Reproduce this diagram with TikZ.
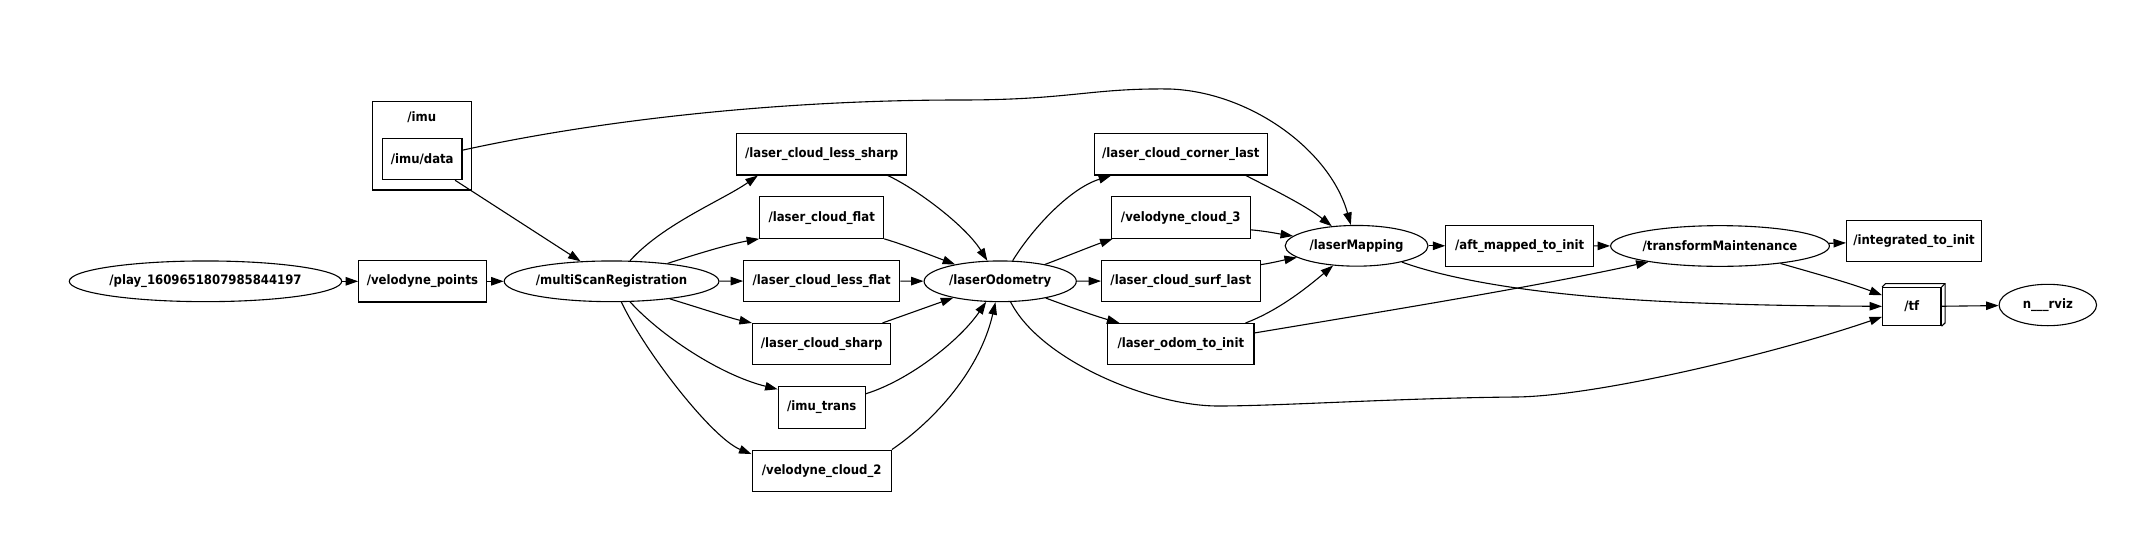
\documentclass[tikz,border=0pt]{standalone}
\usepackage{fontspec}
\setmainfont{DejaVu Sans Condensed}[BoldFont={DejaVu Sans Condensed Bold}]
\usepackage{xcolor}
\usetikzlibrary{positioning, arrows.meta, shapes.geometric}
\tikzset{
  graph font/.style={font=\fontsize{13}{15}\selectfont\bfseries},
  topic/.style={
    rectangle,
    draw=black,
    line width=1.1pt,
    minimum height=41.4pt,
    inner sep=2pt,
    graph font
  },
  ros node/.style={
    ellipse,
    draw=black,
    line width=1.1pt,
    minimum height=40.7pt,
    inner sep=0pt,
    graph font
  },
  link/.style={
    -{Triangle[length=12.5pt, width=8.5pt]},
    line width=1.1pt,
    black
  }
}

\begin{document}
\begin{tikzpicture}[x=1pt, y=-1pt]
  \useasboundingbox (0,0) rectangle (2133,552);

  % source, imu group and registration
  \node[ros node, minimum width=272.4pt] (play) at (205.5,281.3) {/play\_1609651807985844197};
  \node[topic, minimum width=127.5pt, right=15.9pt of play] (vpoints) {/velodyne\_points};
  \node[ros node, minimum width=214.7pt, right=16.9pt of vpoints] (multi) {/multiScanRegistration};
  \node[draw, line width=1.1pt, minimum width=98.9pt, minimum height=88.3pt] (imubox) at (422.2,145.85) {};
  \node[graph font] (imulbl) at (421.7,117) {/imu};
  \node[topic, minimum width=79.5pt] (imudata) at (422.2,159) {/imu/data};

  % first column of topics
  \node[topic, minimum width=170pt] (lesssharp) at (821.7,154.3) {/laser\_cloud\_less\_sharp};
  \node[topic, minimum width=124pt, below=20.8pt of lesssharp] (flat) {/laser\_cloud\_flat};
  \node[topic, minimum width=156pt, below=20.8pt of flat] (lessflat) {/laser\_cloud\_less\_flat};
  \node[topic, minimum width=138.4pt, below=20.8pt of lessflat] (sharp) {/laser\_cloud\_sharp};
  \node[topic, minimum width=87pt, below=20.8pt of sharp] (imutrans) {/imu\_trans};
  \node[topic, minimum width=139.3pt, below=20.8pt of imutrans] (vctwo) {/velodyne\_cloud\_2};

  \node[ros node, minimum width=152.2pt] (odom) at (1000.2,281.3) {/laserOdometry};

  % second column of topics
  \node[topic, minimum width=173.2pt] (corner) at (1180.8,154.3) {/laser\_cloud\_corner\_last};
  \node[topic, minimum width=139.3pt, below=20.8pt of corner] (vcthree) {/velodyne\_cloud\_3};
  \node[topic, minimum width=158.5pt, below=20.8pt of vcthree] (surf) {/laser\_cloud\_surf\_last};
  \node[topic, minimum width=146.4pt, below=20.8pt of surf] (odominit) {/laser\_odom\_to\_init};

  % mapping and transform chain
  \node[ros node, minimum width=142.8pt] (mapping) at (1356.6,245.8) {/laserMapping};
  \node[topic, minimum width=147.8pt] (aft) at (1519.7,245.8) {/aft\_mapped\_to\_init};
  \node[ros node, minimum width=217.4pt] (tm) at (1720,246) {/transformMaintenance};
  \node[topic, minimum width=134.9pt] (integ) at (1914,241.2) {/integrated\_to\_init};
  \node[topic, minimum width=58.4pt, minimum height=38.2pt] (tf) at (1911.8,306.6) {/tf};
  \draw[line width=1.1pt] (tf.north west) -- ++(3.5,-3.3) -| ([xshift=3.5pt,yshift=3.3pt]tf.south east) -- (tf.south east);
  \draw[line width=1.1pt] (tf.north east) -- ++(3.5,-3.3);
  \node[ros node, minimum width=97.5pt, minimum height=41.4pt] (rviz) at (2047.8,305) {n\_\_\_rviz};

  % edges
  \draw[link] (play) -- (vpoints);
  \draw[link] (vpoints) -- (multi);
  \draw[link] (imudata) -- (multi);
  \draw[link] (imudata) .. controls (600,120) and (780,100) .. (960,100)
    .. controls (1070,100) and (1090,88) .. (1170,89)
    .. controls (1250,92) and (1330,150) .. (mapping);

  \draw[link] (multi) .. controls (663,224) and (723,200) .. ([xshift=21.7pt]lesssharp.south west);
  \draw[link] (multi) .. controls (700,253) and (730,244) .. (flat.south west);
  \draw[link] (multi) -- (lessflat);
  \draw[link] (multi) .. controls (700,308) and (730,318) .. (sharp.north west);
  \draw[link] (multi) .. controls (660,335) and (720,375) .. ([yshift=-3pt]imutrans.north west);
  \draw[link] (multi) .. controls (645,352) and (712,438) .. ([yshift=-4.5pt]vctwo.north west);

  \draw[link] ([xshift=-19.5pt]lesssharp.south east) .. controls (915,188) and (965,225) .. (odom);
  \draw[link] (flat.south east) .. controls (905,245) and (930,255) .. (odom);
  \draw[link] (lessflat) -- (odom);
  \draw[link] ([xshift=-9pt]sharp.north east) .. controls (905,315) and (930,306) .. (odom);
  \draw[link] (imutrans) .. controls (910,380) and (960,340) .. (odom);
  \draw[link] (vctwo.north east) .. controls (935,420) and (980,370) .. (odom);

  \draw[link] (odom) .. controls (1030,232) and (1068,189) .. ([xshift=17.5pt]corner.south west);
  \draw[link] (odom) .. controls (1070,255) and (1092,246) .. ([xshift=2pt]vcthree.south west);
  \draw[link] (odom) -- (surf);
  \draw[link] (odom) .. controls (1070,307) and (1095,316) .. ([xshift=12.4pt]odominit.north west);
  \draw[link] (odom) .. controls (1040,360) and (1150,406) .. (1218,406)
    .. controls (1280,406) and (1400,398) .. (1516,397)
    .. controls (1600,396) and (1780,352) .. (tf);

  \draw[link] ([xshift=-22pt]corner.south east) .. controls (1270,188) and (1305,205) .. (mapping);
  \draw[link] ([yshift=9pt]vcthree.south east) .. controls (1265,231) and (1280,234) .. (mapping);
  \draw[link] ([yshift=-5pt]surf.north east) .. controls (1272,263) and (1284,260) .. (mapping);
  \draw[link] ([xshift=-9pt]odominit.north east) .. controls (1280,310) and (1310,285) .. (mapping);
  \draw[link] ([yshift=-10pt]odominit.north east) .. controls (1380,312) and (1540,286) .. (tm);

  \draw[link] (mapping) -- (aft);
  \draw[link] (mapping) .. controls (1460,283) and (1560,298) .. (1700,303)
    .. controls (1780,306) and (1840,306) .. (tf);
  \draw[link] (aft) -- (tm);
  \draw[link] (tm) -- (integ);
  \draw[link] (tm) .. controls (1810,272) and (1850,283) .. (tf);
  \draw[link] (tf) -- (rviz);
\end{tikzpicture}
\end{document}
